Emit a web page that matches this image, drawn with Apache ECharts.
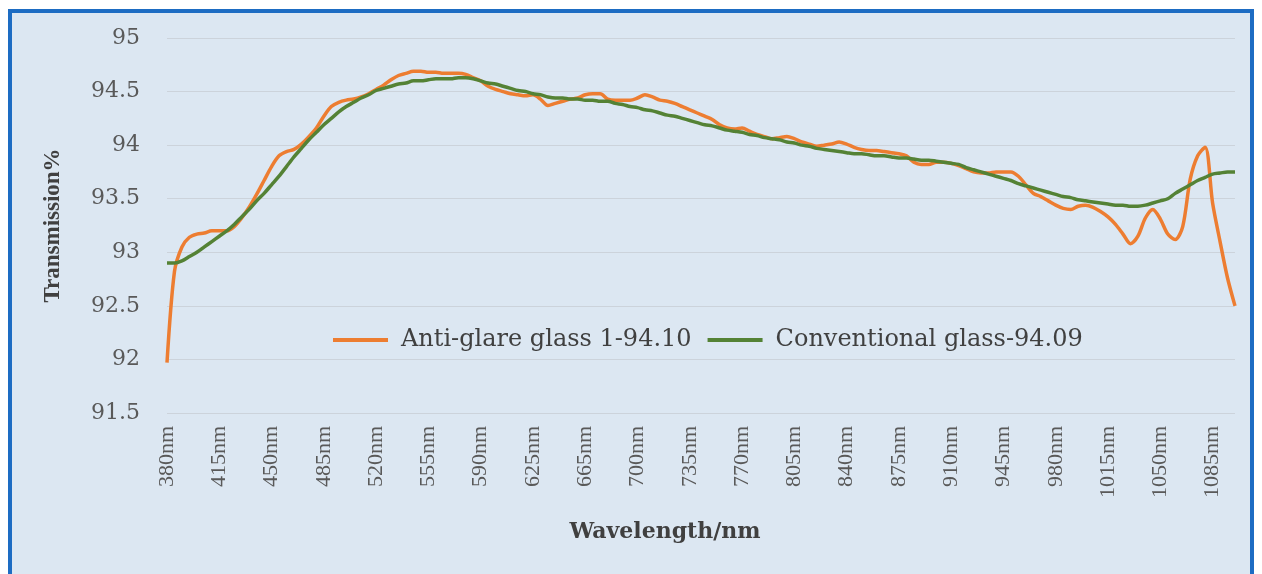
<!DOCTYPE html>
<html>
<head>
<meta charset="utf-8">
<script src="https://cdn.jsdelivr.net/npm/echarts@6/dist/echarts.min.js"></script>
<style>
  html, body { margin: 0; padding: 0; background: #fff; }
  #frame {
    position: absolute; left: 8px; top: 9px; width: 1238px; height: 565px;
    border: 4px solid #1d6cc3; border-bottom: none; background: #dce7f2;
  }
  #chartLineBox { position: absolute; left: 0; top: 0; width: 1262px; height: 574px; }
</style>
</head>
<body>
<div id="frame"></div>
<div id="chartLineBox"></div>
<script>
// wavelength categories (nm), one per measured point
var wavelengths = [
  380, 385, 390, 395, 400, 405, 410, 415, 420, 425, 430, 435, 440, 445, 450, 455, 460, 465, 470, 475,
  480, 485, 490, 495, 500, 505, 510, 515, 520, 525, 530, 535, 540, 545, 550, 555, 560, 565, 570, 575,
  580, 585, 590, 595, 600, 605, 610, 615, 620, 625, 630, 635, 640, 645, 650, 655,
  665, 670, 675, 680, 685, 690, 695, 700, 705, 710, 715, 720, 725, 730, 735, 740, 745, 750, 755, 760,
  765, 770, 775, 780, 785, 790, 795, 800, 805, 810, 815, 820, 825, 830, 835, 840, 845, 850, 855, 860,
  865, 870, 875, 880, 885, 890, 895, 900, 905, 910, 915, 920, 925, 930, 935, 940, 945, 950, 955, 960,
  965, 970, 975, 980, 985, 990, 995, 1000, 1005, 1010, 1015, 1020, 1025, 1030, 1035, 1040, 1045, 1050,
  1055, 1060, 1065, 1070, 1075, 1080, 1085, 1090, 1095, 1100
];

var antiGlare = [
  91.97, 92.82, 93.05, 93.14, 93.17, 93.18, 93.2, 93.2, 93.2, 93.24,
  93.32, 93.42, 93.54, 93.67, 93.8, 93.9, 93.94, 93.96, 94.01, 94.08,
  94.16, 94.27, 94.36, 94.4, 94.42, 94.43, 94.45, 94.48, 94.52, 94.56,
  94.61, 94.65, 94.67, 94.69, 94.69, 94.68, 94.68, 94.67, 94.67, 94.67,
  94.66, 94.63, 94.6, 94.55, 94.52, 94.5, 94.48, 94.47, 94.46, 94.47,
  94.43, 94.37, 94.39, 94.41, 94.43, 94.44, 94.47, 94.48, 94.48, 94.43,
  94.42, 94.42, 94.42, 94.44, 94.47, 94.45, 94.42, 94.41, 94.39, 94.36,
  94.33, 94.3, 94.27, 94.24, 94.19, 94.16, 94.15, 94.16, 94.13, 94.1,
  94.08, 94.06, 94.07, 94.08, 94.06, 94.03, 94.01, 93.99, 94.0, 94.01,
  94.03, 94.01, 93.98, 93.96, 93.95, 93.95, 93.94, 93.93, 93.92, 93.9,
  93.84, 93.82, 93.82, 93.84, 93.84, 93.83, 93.81, 93.78, 93.75, 93.74,
  93.74, 93.75, 93.75, 93.75, 93.71, 93.63, 93.55, 93.52, 93.48, 93.44,
  93.41, 93.4, 93.43, 93.44, 93.42, 93.38, 93.33, 93.26, 93.17, 93.08,
  93.15, 93.32, 93.4, 93.31, 93.17, 93.12, 93.24, 93.68, 93.9, 93.98,
  93.46, 93.1, 92.76, 92.5
];

var conventional = [
  92.9, 92.9, 92.92, 92.96, 93.0, 93.05, 93.1, 93.15, 93.2, 93.26,
  93.33, 93.4, 93.48, 93.55, 93.63, 93.71, 93.8, 93.89, 93.97, 94.05,
  94.12, 94.19, 94.25, 94.31, 94.36, 94.4, 94.44, 94.47, 94.51, 94.53,
  94.55, 94.57, 94.58, 94.6, 94.6, 94.61, 94.62, 94.62, 94.62, 94.63,
  94.63, 94.62, 94.6, 94.58, 94.57, 94.55, 94.53, 94.51, 94.5, 94.48,
  94.47, 94.45, 94.44, 94.44, 94.43, 94.43, 94.42, 94.42, 94.41, 94.41,
  94.39, 94.38, 94.36, 94.35, 94.33, 94.32, 94.3, 94.28, 94.27, 94.25,
  94.23, 94.21, 94.19, 94.18, 94.16, 94.14, 94.13, 94.12, 94.1, 94.09,
  94.07, 94.06, 94.05, 94.03, 94.02, 94.0, 93.99, 93.97, 93.96, 93.95,
  93.94, 93.93, 93.92, 93.92, 93.91, 93.9, 93.9, 93.89, 93.88, 93.88,
  93.87, 93.86, 93.86, 93.85, 93.84, 93.83, 93.82, 93.79, 93.77, 93.75,
  93.73, 93.71, 93.69, 93.67, 93.64, 93.62, 93.6, 93.58, 93.56, 93.54,
  93.52, 93.51, 93.49, 93.48, 93.47, 93.46, 93.45, 93.44, 93.44, 93.43,
  93.43, 93.44, 93.46, 93.48, 93.5, 93.55, 93.59, 93.63, 93.67, 93.7,
  93.73, 93.74, 93.75, 93.75
];

var seriesNames = ["Anti-glare glass 1-94.10", "Conventional glass-94.09"];
var yTicks = { min: 91.5, max: 95, step: 0.5 };

var chartLine = echarts.init(document.getElementById("chartLineBox"));

var option = {
  animation: false,
  color: ["#ed7d31", "#548235"],
  grid: { left: 167, right: 27, top: 38, bottom: 161 },
  legend: {
    data: seriesNames,
    left: 328,
    top: 323,
    icon: "rect",
    itemWidth: 55,
    itemHeight: 4,
    itemGap: 16,
    textStyle: {
      fontFamily: "DejaVu Serif",
      fontSize: 24,
      color: "#404040",
      padding: [0, 0, 0, 8]
    }
  },
  xAxis: {
    type: "category",
    data: wavelengths,
    boundaryGap: false,
    name: "Wavelength/nm",
    nameLocation: "middle",
    nameGap: 108,
    nameTextStyle: {
      fontFamily: "DejaVu Serif",
      fontWeight: "bold",
      fontSize: 22,
      color: "#404040",
      padding: [0, 72, 0, 0]
    },
    axisLine: { show: false },
    axisTick: { show: false },
    axisLabel: {
      interval: 6,
      rotate: 90,
      margin: 13,
      fontFamily: "Liberation Serif",
      fontSize: 22,
      color: "#595959",
      formatter: function (v) { return v + "nm"; }
    }
  },
  yAxis: {
    type: "value",
    min: yTicks.min,
    max: yTicks.max,
    interval: yTicks.step,
    name: "Transmission%",
    nameLocation: "middle",
    nameGap: 102,
    nameTextStyle: {
      fontFamily: "Liberation Serif",
      fontWeight: "bold",
      fontSize: 23,
      color: "#404040"
    },
    axisLine: { show: false },
    axisTick: { show: false },
    axisLabel: {
      margin: 27,
      fontFamily: "DejaVu Serif",
      fontSize: 22,
      color: "#595959"
    },
    splitLine: { lineStyle: { color: "#ccd3db", width: 1 } }
  },
  series: [
    {
      name: seriesNames[0],
      type: "line",
      data: antiGlare,
      symbol: "none",
      smooth: 0.3,
      lineStyle: { color: "#ed7d31", width: 3.5 }
    },
    {
      name: seriesNames[1],
      type: "line",
      data: conventional,
      symbol: "none",
      smooth: 0.3,
      lineStyle: { color: "#548235", width: 3.5 }
    }
  ]
};

chartLine.setOption(option);
</script>
</body>
</html>
